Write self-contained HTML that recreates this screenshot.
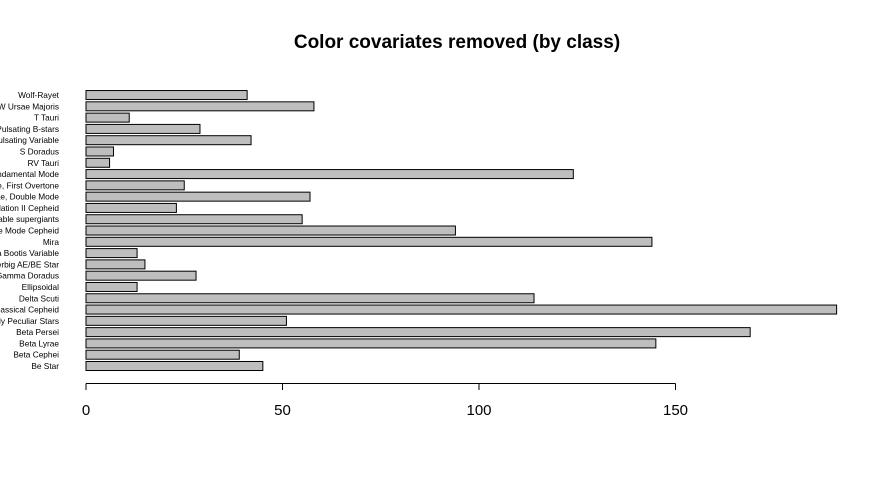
<!DOCTYPE html>
<html><head><meta charset="utf-8"><style>body{margin:0;background:#fff}svg{display:block;font-family:"Liberation Sans",Arial,sans-serif}</style></head>
<body>
<svg id="c" width="876" height="479">
<text x="457" y="48" text-anchor="middle" font-size="19" font-weight="bold">Color covariates removed (by class)</text>
</svg>
<script>
const categories=["Be Star","Beta Cephei","Beta Lyrae","Beta Persei","Chemically Peculiar Stars","Classical Cepheid","Delta Scuti","Ellipsoidal","Gamma Doradus","Herbig AE/BE Star","Lambda Bootis Variable","Mira","Multiple Mode Cepheid","Periodically variable supergiants","Population II Cepheid","RR Lyrae, Double Mode","RR Lyrae, First Overtone","RR Lyrae, Fundamental Mode","RV Tauri","S Doradus","Semiregular Pulsating Variable","Slowly Pulsating B-stars","T Tauri","W Ursae Majoris","Wolf-Rayet"];
const values=[45,39,145,169,51,191,114,13,28,15,13,144,94,55,23,57,25,124,6,7,42,29,11,58,41];
const ticks=[0,50,100,150];
const svg=document.getElementById('c');const NS='http://www.w3.org/2000/svg';
const x=v=>86+v*3.93;
const y=i=>366-i*11.29;
function mk(t,a){const e=document.createElementNS(NS,t);for(const k in a)e.setAttribute(k,a[k]);svg.appendChild(e);return e;}
categories.forEach((c,i)=>{
 const r=mk('rect',{x:86,y:y(i)-4.5,width:x(values[i])-86,height:9,fill:'#bebebe',stroke:'#000','stroke-width':1});
 
 
 const t=mk('text',{x:59,y:y(i)+3,'text-anchor':'end','font-size':8.3});
 t.textContent=c;
 
 
});
const ax=mk('line',{x1:x(0),x2:x(150),y1:383.5,y2:383.5,stroke:'#000'});


ticks.forEach(v=>{
 const l=mk('line',{x1:x(v),x2:x(v),y1:383.5,y2:390,stroke:'#000'});
 
 
 const t=mk('text',{x:x(v),y:415,'text-anchor':'middle','font-size':15});
 t.textContent=v;
 
 
});
</script>
</body></html>
